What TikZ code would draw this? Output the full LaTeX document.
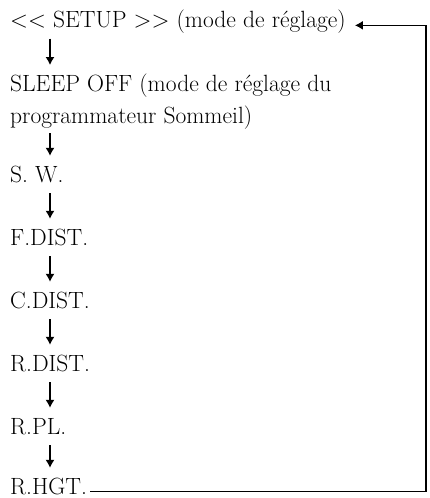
\documentclass[tikz,border=0pt]{standalone}
\usetikzlibrary{arrows.meta}
\begin{document}
\begin{tikzpicture}[x=1pt,y=-1pt,
    item/.style={anchor=base west,inner sep=0pt,font=\fontsize{23.5}{32}\selectfont},
    entry/.style={item,text height=16pt,text depth=6pt},
    flow/.style={-{Latex[length=8pt,width=9pt]},line width=1.2pt,shorten <=5pt,shorten >=10pt}]
    \useasboundingbox (0,0) rectangle (429,498);
    \node[entry] (setup) at (10,27.5) {<\kern0pt< SETUP >\kern0pt> (mode de réglage)};
    \node[item,align=left] (sleep) at (10,123) {SLEEP OFF (mode de réglage du\\programmateur Sommeil)};
    \node[entry] (sw) at (10,182) {S. W.};
    \node[entry] (fdist) at (10,245) {F.DIST.};
    \node[entry] (cdist) at (10,308) {C.DIST.};
    \node[entry] (rdist) at (10,371) {R.DIST.};
    \node[entry] (rpl) at (10,434) {R.PL.};
    \node[entry] (rhgt) at (10,494) {R.HGT.};
    \coordinate (rail) at (426,0);
    \draw[flow] ([xshift=40]setup.south west)--([xshift=40,yshift=48]sleep.base west);
    \draw[flow] ([xshift=40,yshift=-5]sleep.base west)--([xshift=40]sw.north west);
    \draw[flow] ([xshift=40]sw.south west)--([xshift=40]fdist.north west);
    \draw[flow] ([xshift=40]fdist.south west)--([xshift=40]cdist.north west);
    \draw[flow] ([xshift=40]cdist.south west)--([xshift=40]rdist.north west);
    \draw[flow] ([xshift=40]rdist.south west)--([xshift=40]rpl.north west);
    \draw[flow] ([xshift=40]rpl.south west)--([xshift=40]rhgt.north west);
    \draw[flow,shorten <=3pt,shorten >=9pt] (rhgt.mid east)--(rhgt.mid east -| rail)|-(setup.mid east);
\end{tikzpicture}
\end{document}
